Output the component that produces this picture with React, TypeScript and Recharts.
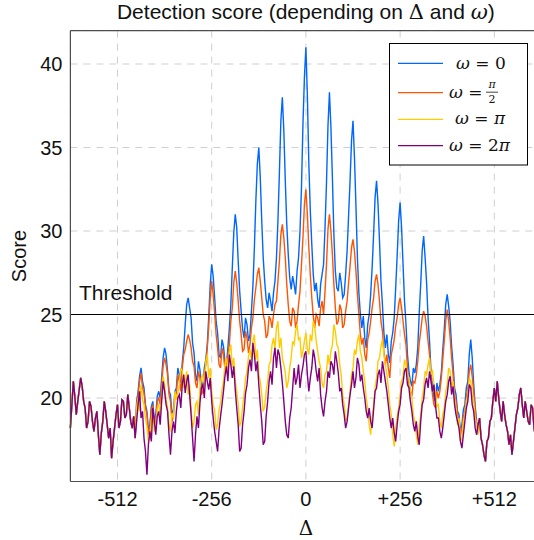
import React from 'react';
import { LineChart, Line, XAxis, YAxis, CartesianGrid, ReferenceLine } from 'recharts';

// sampling grid of the Δ axis
const X_START = -640;
const X_STEP = 4;

const xTicks = [-512, -256, 0, 256, 512];
const yTicks = [20, 25, 30, 35, 40];
const THRESHOLD = 25;

// Δ = -640 .. -464, all four series overlap here
const tailLeft = [
  18.2, 19.6, 21.0, 20.1, 19.0, 19.8, 20.5, 21.2, 20.7, 19.8, 19.4, 18.2,
  18.6, 19.8, 19.5, 18.6, 18.0, 18.8, 19.2, 17.8, 16.6, 17.9, 18.6, 19.8,
  19.2, 18.4, 17.6, 18.2, 16.4, 17.4, 18.2, 19.0, 19.6, 18.2, 18.6, 19.9,
  19.8, 18.8, 19.0, 20.2, 19.4, 18.6, 18.2, 18.9, 17.6,
];

// Δ = +472 .. +640, all four series overlap here
const tailRight = [
  18.8, 17.6, 17.2, 16.6, 16.2, 17.4, 17.6, 18.6, 18.8, 19.8, 20.6, 19.8,
  21.0, 20.0, 19.2, 18.6, 19.8, 19.0, 18.4, 18.0, 17.2, 17.8, 16.6, 17.4,
  18.2, 19.0, 19.4, 20.2, 20.6, 19.6, 18.8, 19.8, 19.2, 18.6, 18.4, 19.6,
  19.4, 18.2, 17.6, 18.4, 18.8, 17.8, 18.0,
];

// Δ = -460, then rows of 16 (64 units each) from -456, last short row 440 .. 468
const blueMid = [
  19.8,
  20.4, 21.3, 21.8, 21.0, 20.6, 19.6, 19.2, 18.1, 18.4, 19.5, 19.8, 18.6, 19.0, 20.1, 20.4, 20.0,
  21.2, 22.4, 23.0, 22.6, 21.6, 20.4, 20.2, 19.0, 19.3, 20.4, 20.6, 21.8, 21.4, 20.9, 22.1, 23.0,
  24.4, 25.6, 26.0, 25.4, 24.8, 23.3, 22.7, 21.4, 21.0, 22.2, 21.7, 20.8, 20.6, 21.8, 22.3, 23.2,
  24.9, 26.8, 28.0, 27.3, 26.0, 24.6, 23.9, 22.6, 22.4, 23.5, 23.1, 22.2, 22.0, 23.0, 24.2, 25.6,
  27.8, 29.9, 31.0, 30.2, 28.2, 26.4, 25.2, 24.1, 23.6, 24.8, 24.4, 23.4, 23.8, 25.2, 26.7, 29.0,
  31.8, 34.0, 35.0, 33.2, 30.6, 28.4, 27.0, 25.9, 25.4, 26.3, 25.8, 25.2, 26.3, 27.0, 28.4, 30.6,
  33.5, 36.6, 38.0, 36.0, 33.0, 30.4, 28.6, 27.2, 26.5, 27.3, 26.8, 26.2, 27.6, 28.4, 30.0, 32.6,
  36.4, 39.2, 41.0, 38.1, 34.0, 31.2, 29.2, 27.4, 26.4, 26.9, 25.9, 25.4, 26.8, 27.4, 28.0, 30.2,
  32.9, 36.3, 38.3, 36.2, 33.2, 29.8, 27.6, 26.6, 26.4, 27.5, 26.9, 26.0, 26.2, 27.4, 28.8, 30.9,
  33.0, 35.4, 36.6, 34.4, 31.5, 28.4, 26.3, 25.0, 24.2, 24.9, 23.6, 23.0, 24.4, 25.0, 26.2, 27.8,
  29.8, 32.0, 33.0, 31.6, 29.4, 27.0, 25.6, 23.9, 23.0, 23.8, 22.6, 22.1, 23.4, 23.9, 24.8, 26.6,
  28.5, 30.6, 31.7, 30.2, 28.0, 25.8, 24.4, 22.6, 21.6, 21.0, 20.7, 21.8, 21.5, 22.0, 23.0, 25.1,
  26.8, 28.8, 29.7, 28.4, 26.9, 24.8, 23.4, 21.6, 20.6, 20.0, 19.8, 20.9, 20.4, 20.8, 21.5, 22.9,
  24.1, 25.6, 26.2, 25.5, 24.6, 23.1, 22.0, 20.6, 20.2, 19.2, 19.0, 18.0, 18.4, 19.3, 19.6, 20.6,
  21.0, 22.6, 23.5, 22.4, 20.8, 19.5, 18.6, 18.2,
];

const orangeMid = [
  19.6,
  20.2, 21.0, 21.5, 20.6, 20.3, 19.4, 19.0, 17.8, 18.2, 19.3, 19.6, 18.4, 18.6, 19.8, 20.0, 19.6,
  20.8, 21.9, 22.4, 22.0, 21.4, 20.2, 19.8, 18.6, 18.9, 20.0, 20.3, 21.4, 21.0, 20.4, 21.8, 22.6,
  22.9, 23.4, 23.8, 23.5, 23.0, 22.2, 21.9, 20.9, 20.6, 21.6, 21.2, 20.2, 20.4, 21.5, 22.0, 23.0,
  24.3, 26.0, 27.0, 26.2, 25.1, 23.8, 23.0, 22.0, 21.8, 23.0, 22.6, 21.7, 21.6, 22.6, 23.2, 24.6,
  25.4, 26.9, 27.6, 26.9, 25.8, 24.6, 23.8, 22.8, 22.9, 24.0, 23.6, 22.7, 23.2, 24.2, 24.8, 25.9,
  26.6, 27.4, 27.8, 27.0, 26.0, 25.0, 24.6, 23.6, 23.8, 24.9, 24.7, 24.2, 25.0, 25.6, 25.8, 27.0,
  28.2, 29.8, 30.4, 29.6, 28.4, 26.8, 25.6, 24.6, 24.3, 25.4, 25.2, 24.2, 24.6, 25.6, 26.4, 28.0,
  29.6, 31.6, 32.5, 31.0, 29.0, 27.4, 26.0, 24.9, 24.2, 25.0, 24.8, 24.3, 25.4, 25.8, 25.0, 26.4,
  28.0, 30.1, 31.0, 30.0, 28.6, 26.8, 25.4, 24.4, 24.6, 25.6, 25.3, 24.2, 24.4, 25.2, 25.8, 26.9,
  27.9, 29.0, 29.5, 28.8, 27.6, 26.2, 25.0, 23.8, 23.2, 23.6, 22.6, 22.2, 23.5, 23.9, 24.6, 25.4,
  26.0, 27.0, 27.4, 26.8, 25.8, 24.6, 24.0, 22.8, 22.0, 22.6, 21.8, 21.2, 22.6, 23.0, 23.5, 24.3,
  24.8, 25.6, 26.0, 25.4, 24.6, 23.8, 23.2, 21.8, 20.8, 20.4, 20.1, 21.0, 20.9, 21.4, 22.2, 23.3,
  24.0, 24.8, 25.2, 24.9, 24.3, 23.4, 22.6, 21.2, 20.2, 19.6, 19.4, 20.4, 20.0, 20.4, 21.2, 22.3,
  23.4, 24.6, 25.3, 24.6, 23.6, 22.4, 21.4, 20.2, 19.8, 19.0, 18.7, 17.8, 18.1, 18.9, 19.2, 20.0,
  20.6, 21.6, 22.0, 21.3, 20.4, 19.3, 18.4, 18.0,
];

const yellowMid = [
  19.4,
  20.0, 19.2, 20.8, 19.9, 19.6, 18.8, 18.3, 17.4, 17.6, 18.7, 19.2, 18.0, 18.2, 19.4, 19.6, 19.0,
  20.1, 21.3, 20.8, 19.9, 19.5, 18.4, 18.0, 19.1, 18.8, 20.4, 19.9, 20.3, 20.8, 21.8, 21.6, 20.6,
  21.0, 21.6, 20.2, 20.8, 19.4, 18.2, 18.6, 19.6, 19.8, 19.0, 20.6, 21.2, 21.4, 20.7, 22.2, 22.6,
  21.2, 21.8, 20.4, 19.6, 19.3, 18.1, 18.4, 19.3, 19.7, 20.5, 21.0, 22.0, 22.4, 21.7, 22.8, 23.2,
  21.8, 22.4, 21.0, 20.4, 19.6, 18.3, 18.6, 19.5, 20.2, 21.2, 21.6, 22.5, 22.9, 22.3, 23.4, 23.8,
  22.3, 22.9, 21.4, 21.0, 20.2, 19.2, 19.5, 20.4, 21.0, 22.0, 22.2, 23.2, 23.6, 22.9, 24.2, 24.6,
  23.0, 23.6, 22.4, 22.0, 21.5, 20.6, 21.0, 21.8, 22.4, 23.4, 23.2, 24.0, 24.4, 23.5, 23.6, 22.4,
  22.8, 23.4, 23.9, 22.9, 22.6, 23.8, 23.4, 24.6, 24.3, 23.4, 22.8, 22.2, 21.8, 20.9, 20.6, 21.4,
  21.6, 22.6, 22.0, 22.8, 23.2, 24.4, 24.0, 23.2, 23.0, 22.0, 21.4, 20.2, 19.6, 18.6, 18.8, 19.6,
  20.4, 21.4, 21.8, 22.9, 22.6, 23.4, 23.8, 22.8, 22.4, 21.6, 21.0, 20.0, 19.4, 18.4, 17.8, 18.8,
  19.6, 20.6, 21.2, 22.2, 22.4, 23.1, 23.5, 22.6, 22.0, 21.4, 20.6, 19.6, 19.0, 17.8, 17.1, 18.2,
  18.9, 19.4, 20.2, 21.0, 21.3, 22.3, 22.0, 21.4, 21.2, 20.5, 20.0, 19.0, 18.6, 17.8, 17.2, 18.3,
  19.0, 20.0, 20.6, 21.6, 21.4, 22.0, 22.4, 21.4, 21.6, 20.8, 20.4, 19.5, 19.6, 18.6, 18.2, 19.0,
  19.4, 20.4, 20.8, 21.8, 21.6, 20.6, 21.0, 20.0, 19.4, 18.4, 18.8, 17.4, 17.6, 18.6, 19.0, 19.8,
  20.2, 21.2, 21.0, 20.2, 19.8, 18.8, 18.4, 17.8,
];

const purpleMid = [
  18.6,
  19.6, 20.4, 18.8, 19.2, 17.6, 16.8, 15.4, 17.2, 18.0, 17.4, 19.4, 18.6, 17.8, 18.9, 19.2, 18.4,
  19.8, 21.0, 20.4, 19.6, 19.2, 17.8, 16.6, 18.0, 18.6, 17.9, 19.2, 20.0, 20.2, 19.4, 20.8, 21.4,
  20.3, 21.0, 21.4, 20.2, 19.0, 17.6, 16.2, 17.8, 18.9, 18.2, 19.7, 20.6, 20.8, 20.0, 21.6, 21.0,
  20.5, 21.2, 19.8, 18.8, 18.0, 17.4, 16.8, 18.1, 18.9, 19.6, 20.4, 21.3, 21.9, 21.0, 22.6, 22.0,
  21.2, 21.9, 20.5, 19.4, 18.4, 16.8, 17.0, 18.4, 19.2, 20.3, 20.8, 21.8, 22.3, 21.6, 23.3, 22.6,
  21.6, 22.2, 20.8, 19.6, 18.6, 17.2, 17.4, 18.9, 19.8, 21.0, 21.6, 20.8, 22.4, 23.0, 21.8, 22.9,
  22.6, 21.8, 20.9, 19.8, 18.6, 17.8, 17.6, 18.8, 19.4, 20.6, 21.8, 20.8, 21.2, 22.0, 20.6, 21.4,
  21.9, 22.6, 22.8, 21.4, 20.4, 21.2, 21.8, 22.9, 22.4, 21.6, 21.0, 21.8, 20.2, 19.4, 18.9, 19.8,
  20.4, 21.6, 21.2, 22.2, 22.0, 21.4, 22.8, 22.2, 21.5, 20.4, 20.6, 19.6, 19.0, 18.2, 18.6, 19.4,
  20.2, 20.8, 21.6, 20.6, 21.2, 22.4, 22.0, 21.0, 21.4, 20.6, 20.0, 19.2, 18.8, 19.4, 18.6, 18.2,
  19.3, 20.4, 20.6, 21.4, 21.7, 20.9, 22.2, 21.6, 21.0, 20.4, 19.6, 18.8, 18.2, 18.8, 17.9, 17.4,
  18.4, 19.2, 19.6, 20.6, 20.9, 21.6, 21.8, 20.8, 20.6, 19.8, 19.2, 18.4, 18.0, 18.6, 17.7, 17.2,
  18.6, 19.6, 19.9, 20.8, 21.2, 20.6, 21.6, 21.0, 20.4, 20.8, 19.6, 18.8, 18.8, 18.0, 17.6, 18.2,
  19.0, 19.8, 20.2, 21.0, 21.3, 20.2, 20.7, 19.6, 19.0, 18.6, 18.2, 17.4, 17.0, 17.8, 18.6, 19.4,
  19.8, 20.8, 20.6, 19.6, 19.2, 18.2, 17.8, 18.4,
];

const series = [
  { key: 'w0', color: '#0066ff', mid: blueMid },
  { key: 'w1', color: '#ff5500', mid: orangeMid },
  { key: 'w2', color: '#ffcc00', mid: yellowMid },
  { key: 'w3', color: '#800080', mid: purpleMid },
];

const full = series.map(s => [...tailLeft, ...s.mid, ...tailRight]);
const rows = full[0].map((_, i) => {
  const row: Record<string, number> = { d: X_START + i * X_STEP };
  series.forEach((s, j) => { row[s.key] = full[j][i]; });
  return row;
});

const SANS = 'Liberation Sans, Arial, sans-serif';
const SERIF = 'DejaVu Serif, Liberation Serif, serif';
const AXIS = '#4d4d4d';

const fmtX = (v: number) => (v > 0 ? `+${v}` : String(v));

const legendY = [63.3, 92.7, 119.3, 145.7];

export default function App() {
  return (
    <div style={{ position: 'absolute', left: 0, top: 0, width: 534, height: 540, overflow: 'hidden', background: '#fff' }}>
      <LineChart
        width={560}
        height={540}
        data={rows}
        margin={{ top: 30.6, right: 18.6, bottom: 18.5, left: 10.4 }}
      >
        <CartesianGrid strokeDasharray="7 6" stroke="#cfcfcf" />
        <XAxis
          type="number"
          dataKey="d"
          domain={[-640, 640]}
          ticks={xTicks}
          tickFormatter={fmtX}
          height={40}
          axisLine={{ stroke: AXIS, strokeWidth: 1.2 }}
          tickLine={false}
          tickMargin={4}
          tick={{ fill: '#111', fontSize: 20, fontFamily: SANS }}
        />
        <YAxis
          type="number"
          domain={[15, 42]}
          ticks={yTicks}
          width={60}
          axisLine={{ stroke: AXIS, strokeWidth: 1.2 }}
          tickLine={false}
          tick={{ fill: '#111', fontSize: 20, fontFamily: SANS }}
        />
        <ReferenceLine y={42} stroke={AXIS} strokeWidth={1.2} />
        {series.map(s => (
          <Line
            key={s.key}
            type="linear"
            dataKey={s.key}
            stroke={s.color}
            strokeWidth={1.4}
            dot={false}
            isAnimationActive={false}
          />
        ))}
        <ReferenceLine y={THRESHOLD} stroke="#000" strokeWidth={1} />
      </LineChart>

      <svg width={534} height={540} style={{ position: 'absolute', left: 0, top: 0, pointerEvents: 'none' }}>
        <text x={305.9} y={19} textAnchor="middle" fontFamily={SANS} fontSize={21} fill="#111">
          Detection score (depending on <tspan fontFamily={SERIF}>Δ</tspan> and{' '}
          <tspan fontFamily={SERIF} fontStyle="italic">ω</tspan>)
        </text>
        <text x={26} y={256} transform="rotate(-90 26 256)" textAnchor="middle" fontFamily={SANS} fontSize={20} fill="#111">
          Score
        </text>
        <text x={305.9} y={535} textAnchor="middle" fontFamily={SERIF} fontSize={20} fill="#111">Δ</text>
        <text x={79} y={299.5} fontFamily={SANS} fontSize={21} fill="#111">Threshold</text>

        <rect x={389.5} y={43.5} width={138} height={121.5} fill="#fff" stroke="#000" strokeWidth={1} />
        {series.map((s, i) => (
          <line key={s.key} x1={398} x2={443} y1={legendY[i]} y2={legendY[i]} stroke={s.color} strokeWidth={1.3} />
        ))}
        <g fontFamily={SERIF} fontSize={17} fill="#111">
          <text x={456} y={69.3}><tspan fontStyle="italic">ω</tspan> = 0</text>
          <text x={449} y={97.5}><tspan fontStyle="italic">ω</tspan> =</text>
          <text x={492} y={88} textAnchor="middle" fontSize={11}><tspan fontStyle="italic">π</tspan></text>
          <line x1={486} x2={498} y1={92.2} y2={92.2} stroke="#111" strokeWidth={0.8} />
          <text x={492} y={103} textAnchor="middle" fontSize={11}>2</text>
          <text x={455} y={123.5}><tspan fontStyle="italic">ω</tspan> = <tspan fontStyle="italic">π</tspan></text>
          <text x={449} y={150.5}><tspan fontStyle="italic">ω</tspan> = 2<tspan fontStyle="italic">π</tspan></text>
        </g>
      </svg>
    </div>
  );
}
